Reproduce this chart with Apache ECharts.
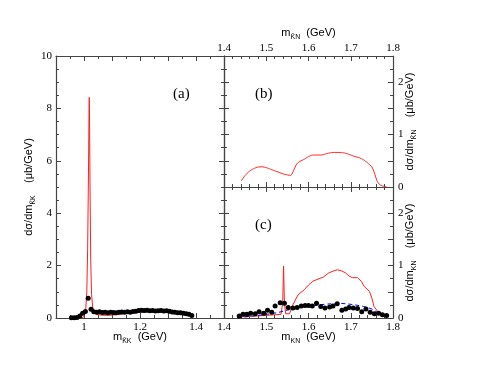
<!DOCTYPE html>
<html>
<head>
<meta charset="utf-8">
<script src="https://cdn.jsdelivr.net/npm/echarts/dist/echarts.min.js"></script>
<style>
  html, body { margin: 0; padding: 0; background: #fff; }
  #main { width: 484px; height: 374px; }
</style>
</head>
<body>
<div id="main"></div>
<script>
// panel (a): K-bar K invariant mass
const kkDotMass = [0.955, 0.965, 0.975, 0.985, 0.995, 1.005, 1.015, 1.025, 1.035, 1.045,
  1.055, 1.065, 1.075, 1.085, 1.095, 1.105, 1.115, 1.125, 1.135, 1.145,
  1.155, 1.165, 1.175, 1.185, 1.195, 1.205, 1.215, 1.225, 1.235, 1.245,
  1.255, 1.265, 1.275, 1.285, 1.295, 1.305, 1.315, 1.325, 1.335, 1.345,
  1.355, 1.365, 1.375, 1.385]
const kkDotVal = [0.01, 0.01, 0.02, 0.08, 0.18, 0.25, 0.75, 0.33, 0.24, 0.22,
  0.24, 0.21, 0.22, 0.20, 0.22, 0.21, 0.20, 0.22, 0.23, 0.22,
  0.24, 0.22, 0.25, 0.26, 0.29, 0.30, 0.29, 0.30, 0.28, 0.29,
  0.27, 0.28, 0.29, 0.27, 0.28, 0.26, 0.23, 0.22, 0.20, 0.20,
  0.18, 0.16, 0.14, 0.10]
const kkCurveMass = [0.99, 1.0, 1.006, 1.010, 1.013, 1.016, 1.018, 1.0188, 1.0195, 1.0215,
  1.024, 1.027, 1.031, 1.036, 1.045, 1.06, 1.08, 1.10, 1.12, 1.14,
  1.16, 1.18, 1.20, 1.22, 1.24, 1.26, 1.28, 1.30, 1.315, 1.325, 1.336]
const kkCurveVal = [0.0, 0.05, 0.3, 1.0, 2.6, 5.5, 8.0, 8.42, 8.0, 5.0,
  2.2, 0.9, 0.42, 0.22, 0.14, 0.11, 0.10, 0.11, 0.13, 0.16,
  0.18, 0.20, 0.22, 0.23, 0.25, 0.26, 0.27, 0.27, 0.24, 0.20, 0.17]

// panel (b): model curve
const knMassB = [1.441, 1.45, 1.46, 1.47, 1.48, 1.49, 1.50, 1.51, 1.52, 1.53,
  1.54, 1.55, 1.558, 1.565, 1.572, 1.58, 1.59, 1.60, 1.61, 1.62,
  1.63, 1.64, 1.65, 1.66, 1.67, 1.68, 1.69, 1.70, 1.71, 1.72,
  1.73, 1.74, 1.75, 1.756, 1.762, 1.768, 1.775, 1.785]
const knValB = [0.12, 0.22, 0.30, 0.35, 0.38, 0.385, 0.37, 0.34, 0.31, 0.28,
  0.25, 0.23, 0.22, 0.32, 0.44, 0.49, 0.53, 0.58, 0.61, 0.61,
  0.61, 0.63, 0.65, 0.66, 0.66, 0.655, 0.64, 0.61, 0.58, 0.56,
  0.52, 0.46, 0.38, 0.27, 0.12, 0.05, 0.02, 0.0]

// panel (c): model curve, background curve, data
const knMassC = [1.435, 1.46, 1.50, 1.535, 1.539, 1.541, 1.543, 1.546, 1.555, 1.563,
  1.575, 1.59, 1.60, 1.61, 1.625, 1.635, 1.648, 1.66, 1.668, 1.678,
  1.688, 1.696, 1.704, 1.716, 1.725, 1.732, 1.744, 1.75, 1.755, 1.767,
  1.775, 1.783]
const knValC = [0.02, 0.03, 0.05, 0.07, 0.3, 0.99, 0.3, 0.08, 0.08, 0.25,
  0.44, 0.54, 0.63, 0.70, 0.75, 0.78, 0.86, 0.90, 0.92, 0.90,
  0.86, 0.80, 0.77, 0.77, 0.70, 0.60, 0.51, 0.38, 0.22, 0.09,
  0.04, 0.02]
const bgMass = [1.432, 1.45, 1.47, 1.50, 1.525, 1.55, 1.575, 1.60, 1.625, 1.65,
  1.67, 1.69, 1.71, 1.73, 1.75, 1.765, 1.78, 1.787]
const bgVal = [0.0, 0.02, 0.04, 0.07, 0.10, 0.15, 0.19, 0.22, 0.25, 0.27,
  0.28, 0.27, 0.25, 0.22, 0.17, 0.10, 0.05, 0.03]
const knDotMass = [1.436, 1.445, 1.454, 1.463, 1.474, 1.483, 1.494, 1.503, 1.513, 1.521,
  1.533, 1.543, 1.552, 1.563, 1.573, 1.583, 1.592, 1.600, 1.609, 1.619,
  1.629, 1.639, 1.650, 1.658, 1.668, 1.679, 1.688, 1.696, 1.706, 1.716,
  1.726, 1.736, 1.746, 1.756, 1.766, 1.775, 1.785]
const knDotVal = [0.04, 0.07, 0.07, 0.09, 0.08, 0.12, 0.09, 0.15, 0.11, 0.23,
  0.29, 0.28, 0.20, 0.19, 0.20, 0.23, 0.24, 0.24, 0.23, 0.28,
  0.22, 0.19, 0.21, 0.23, 0.27, 0.15, 0.17, 0.20, 0.19, 0.18,
  0.12, 0.17, 0.11, 0.08, 0.09, 0.06, 0.05]

function zip(xs, ys) {
    return xs.map((x, i) => [x, ys[i]])
}

const AXIS_COLOR = '#444'
const serif = 'Liberation Serif'
const sans = 'Liberation Sans'

const nameRich = {
    n: { fontFamily: sans, fontSize: 11, color: '#000', lineHeight: 16 },
    s: { fontFamily: sans, fontSize: 7, color: '#000', verticalAlign: 'bottom', lineHeight: 8 }
}

function baseAxis(extra) {
    return Object.assign({
        type: 'value',
        nameMoveOverlap: false,
        axisLine: { show: true, onZero: false, lineStyle: { color: AXIS_COLOR, width: 1.2 } },
        axisTick: { show: true, inside: true, length: 5, lineStyle: { color: AXIS_COLOR } },
        minorTick: { show: true, length: 3, lineStyle: { color: AXIS_COLOR } },
        splitLine: { show: false },
        axisLabel: { show: false, color: '#000', fontFamily: serif, fontSize: 11, margin: 4 }
    }, extra)
}

function withLabels(axis, formatter, margin) {
    axis.axisLabel = Object.assign({}, axis.axisLabel, { show: true, formatter: formatter, margin: margin })
    return axis
}

const fmtA = v => {
    const r = Math.round(v * 10)
    return (r === 10 || r === 12 || r === 14) ? String(+v.toFixed(1)) : ''
}
const fmtKN = v => String(+v.toFixed(1))
const fmtInt = v => Math.abs(v - Math.round(v)) < 1e-6 ? String(Math.round(v)) : ''

const xA = { min: 0.9, max: 1.5, interval: 0.1, minorTick: { show: true, splitNumber: 2, length: 3, lineStyle: { color: AXIS_COLOR } } }
const xKN = { min: 1.4, max: 1.8, interval: 0.1, minorTick: { show: true, splitNumber: 5, length: 3, lineStyle: { color: AXIS_COLOR } } }
const yA = { min: 0, max: 10, interval: 2, minorTick: { show: true, splitNumber: 4, length: 3, lineStyle: { color: AXIS_COLOR } } }
const yKN = { min: 0, max: 2.5, interval: 0.5, minorTick: { show: true, splitNumber: 2, length: 3, lineStyle: { color: AXIS_COLOR } } }

const xAxes = [
    withLabels(baseAxis(Object.assign({ gridIndex: 0, position: 'bottom',
        name: '{n|m}{s|K̄K}{n|  (GeV)}', nameLocation: 'middle', nameGap: 11,
        nameTextStyle: { rich: nameRich } }, xA)), fmtA, 4),
    baseAxis(Object.assign({ gridIndex: 0, position: 'top' }, xA)),
    withLabels(baseAxis(Object.assign({ gridIndex: 1, position: 'top',
        name: '{n|m}{s|K̄N}{n|  (GeV)}', nameLocation: 'middle', nameGap: 15,
        nameTextStyle: { rich: nameRich } }, xKN)), fmtKN, 2),
    baseAxis(Object.assign({ gridIndex: 1, position: 'bottom' }, xKN)),
    baseAxis(Object.assign({ gridIndex: 2, position: 'top' }, xKN)),
    withLabels(baseAxis(Object.assign({ gridIndex: 2, position: 'bottom',
        name: '{n|m}{s|KN}{n|  (GeV)}', nameLocation: 'middle', nameGap: 11,
        nameTextStyle: { rich: nameRich } }, xKN)), fmtKN, 4)
]

const yAxes = [
    withLabels(baseAxis(Object.assign({ gridIndex: 0, position: 'left',
        name: '{n|dσ/dm}{s|K̄K}{n|    (μb/GeV)}', nameLocation: 'middle', nameGap: 19, nameRotate: 90,
        nameTextStyle: { rich: nameRich } }, yA)), null, 4),
    baseAxis(Object.assign({ gridIndex: 0, position: 'right' }, yA)),
    baseAxis(Object.assign({ gridIndex: 1, position: 'left' }, yKN)),
    withLabels(baseAxis(Object.assign({ gridIndex: 1, position: 'right',
        name: '{n|dσ/dm}{s|K̄N}{n|    (μb/GeV)}', nameLocation: 'middle', nameGap: 9, nameRotate: 90,
        nameTextStyle: { rich: nameRich } }, yKN)), fmtInt, 5),
    baseAxis(Object.assign({ gridIndex: 2, position: 'left' }, yKN)),
    withLabels(baseAxis(Object.assign({ gridIndex: 2, position: 'right',
        name: '{n|dσ/dm}{s|KN}{n|    (μb/GeV)}', nameLocation: 'middle', nameGap: 9, nameRotate: 90,
        nameTextStyle: { rich: nameRich } }, yKN)), fmtInt, 5)
]

const redLine = { type: 'line', showSymbol: false, symbol: 'none', lineStyle: { color: '#ff2020', width: 1 }, z: 3 }
const dots = { type: 'scatter', symbol: 'circle', symbolSize: 5, itemStyle: { color: '#000', opacity: 1 }, z: 4 }

const chart = echarts.init(document.getElementById('main'))
chart.setOption({
    animation: false,
    backgroundColor: '#fff',
    grid: [
        { left: 56, top: 56, width: 168, height: 262 },
        { left: 224, top: 56, width: 169, height: 131 },
        { left: 224, top: 187, width: 169, height: 131 }
    ],
    title: [
        { text: '(a)', left: 168, top: 82, textStyle: { fontFamily: serif, fontSize: 15, fontWeight: 'normal', color: '#000' } },
        { text: '(b)', left: 250, top: 82, textStyle: { fontFamily: serif, fontSize: 15, fontWeight: 'normal', color: '#000' } },
        { text: '(c)', left: 250, top: 213, textStyle: { fontFamily: serif, fontSize: 15, fontWeight: 'normal', color: '#000' } }
    ],
    xAxis: xAxes,
    yAxis: yAxes,
    series: [
        Object.assign({}, redLine, { xAxisIndex: 0, yAxisIndex: 0, data: zip(kkCurveMass, kkCurveVal) }),
        Object.assign({}, dots, { xAxisIndex: 0, yAxisIndex: 0, data: zip(kkDotMass, kkDotVal) }),
        Object.assign({}, redLine, { xAxisIndex: 2, yAxisIndex: 3, smooth: 0.2, data: zip(knMassB, knValB) }),
        Object.assign({}, redLine, { xAxisIndex: 5, yAxisIndex: 5, data: zip(knMassC, knValC) }),
        { type: 'line', xAxisIndex: 5, yAxisIndex: 5, showSymbol: false, symbol: 'none', smooth: 0.3,
          lineStyle: { color: '#0000ff', width: 1, type: [4, 3] }, z: 3, data: zip(bgMass, bgVal) },
        Object.assign({}, dots, { xAxisIndex: 5, yAxisIndex: 5, data: zip(knDotMass, knDotVal) })
    ]
})
</script>
</body>
</html>
